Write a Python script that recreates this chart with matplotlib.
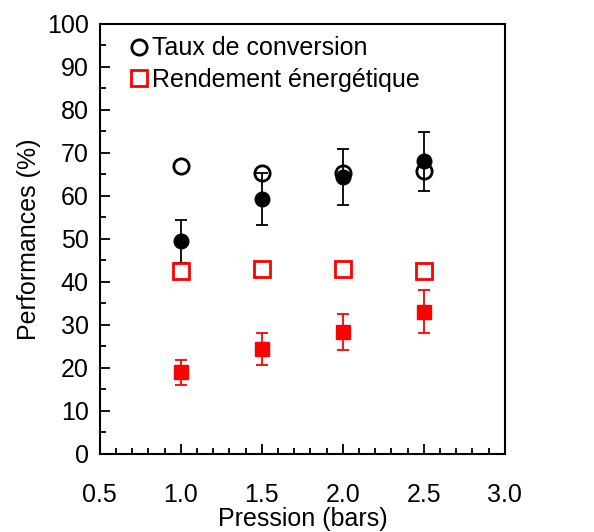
import numpy as np
import matplotlib.pyplot as plt
from matplotlib.ticker import MultipleLocator

plt.rcParams['font.family'] = ['Liberation Sans', 'DejaVu Sans']

# data
pression = [1.0, 1.5, 2.0, 2.5]
taux_theo = [67.0, 65.4, 65.3, 65.7]
taux_exp = [49.5, 59.3, 64.4, 68.0]
taux_err = [5.0, 6.0, 6.5, 6.8]
rend_theo = [42.5, 42.9, 42.9, 42.6]
rend_exp = [19.0, 24.4, 28.3, 33.1]
rend_err = [2.9, 3.7, 4.2, 5.0]

fig = plt.figure(figsize=(5.94, 5.32), dpi=100)
ax = fig.add_axes([0.168, 0.147, 0.682, 0.808])

ax.errorbar(pression, taux_exp, yerr=taux_err, fmt='o', color='black',
            ms=10.5, elinewidth=1.3, capsize=4.5, capthick=1.3, zorder=3)
ax.errorbar(pression, rend_exp, yerr=rend_err, fmt='s', color='red',
            ms=9.5, elinewidth=1.3, capsize=4.5, capthick=1.3, zorder=3)
ax.plot(pression, taux_theo, 'o', mfc='none', mec='black', mew=2, ms=11,
        label='Taux de conversion', zorder=4)
ax.plot(pression, rend_theo, 's', mfc='none', mec='red', mew=2, ms=11,
        label='Rendement énergétique', zorder=4)

ax.set_xlim(0.5, 3.0)
ax.set_ylim(0, 100)
ax.xaxis.set_major_locator(MultipleLocator(0.5))
ax.xaxis.set_minor_locator(MultipleLocator(0.1))
ax.yaxis.set_major_locator(MultipleLocator(10))
ax.yaxis.set_minor_locator(MultipleLocator(5))
ax.xaxis.set_major_formatter(plt.FormatStrFormatter('%.1f'))
ax.tick_params(axis='x', which='major', direction='in', length=7, width=1.3,
               labelsize=18, pad=21)
ax.tick_params(axis='x', which='minor', direction='in', length=4, width=1.3)
ax.tick_params(axis='y', which='major', direction='in', length=7, width=1.3,
               labelsize=18, pad=8)
ax.tick_params(axis='y', which='minor', direction='in', length=4, width=1.3)
for s in ax.spines.values():
    s.set_linewidth(1.5)

ax.set_xlabel('Pression (bars)', fontsize=18, labelpad=0)
ax.set_ylabel('Performances (%)', fontsize=18, labelpad=4)

ax.legend(loc='upper left', frameon=False, fontsize=18, handletextpad=-0.1,
          handlelength=1.2, borderaxespad=0.1, labelspacing=0.3,
          bbox_to_anchor=(0.03, 1.0))

fig.savefig('out.png', dpi=100)
